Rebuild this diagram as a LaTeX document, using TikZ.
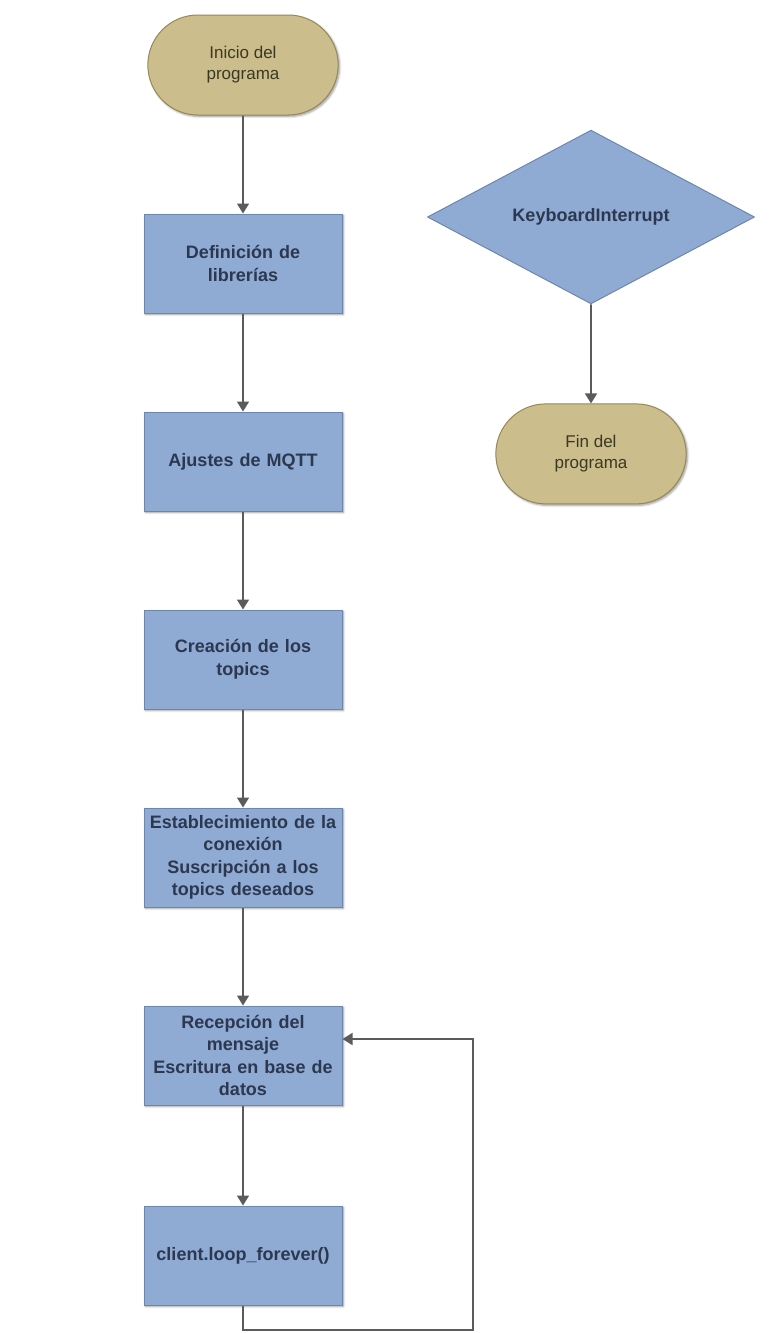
\documentclass[tikz,border=0pt]{standalone}
\usepackage{fontspec}
\setmainfont{Liberation Sans}
\usepackage{tikz}
\usetikzlibrary{positioning,shapes.geometric,shapes.misc,arrows.meta,calc,shadows.blur}
\definecolor{fcblue}{HTML}{8FAAD3}
\definecolor{fcblueline}{HTML}{6E86AC}
\definecolor{fctan}{HTML}{CBBD8C}
\definecolor{fctanline}{HTML}{968858}
\definecolor{fcink}{HTML}{2C3850}
\definecolor{fcolive}{HTML}{3B3922}
\definecolor{fcarrow}{HTML}{5B5B5B}
\tikzset{
  proc/.style={draw=fcblueline,fill=fcblue,line width=1pt,minimum width=198pt,minimum height=99pt,text width=190pt,align=center,text=fcink,font=\fontsize{18}{22.5}\selectfont\bfseries,blur shadow={shadow blur steps=5,shadow xshift=1.5pt,shadow yshift=-1.5pt}},
  term/.style={rounded rectangle,draw=fctanline,fill=fctan,line width=1pt,minimum width=197pt,minimum height=100pt,align=center,text=fcolive,font=\fontsize{17}{21}\selectfont,blur shadow={shadow blur steps=5,shadow xshift=1.5pt,shadow yshift=-1.5pt}},
  decision/.style={diamond,draw=fcblueline,fill=fcblue,line width=1pt,minimum width=327pt,minimum height=153pt,inner sep=0pt,text=fcink,font=\fontsize{18}{22}\selectfont\bfseries},
  lnk/.style={-{Triangle[length=10pt,width=12pt]},line width=1.6pt,draw=fcarrow},
}
\begin{document}
\begin{tikzpicture}[node distance=98pt]
  \useasboundingbox (0,0) rectangle (777pt,-1333pt);
  \node[term] (start) at (243pt,-65pt) {Inicio del\\programa};
  \node[proc,below=of start] (libs) {Definición de\\librerías};
  \node[proc,below=of libs] (mqtt) {Ajustes de MQTT};
  \node[proc,below=of mqtt] (topics) {Creación de los\\topics};
  \node[proc,below=of topics] (conn) {Establecimiento de la\\conexión\\Suscripción a los\\topics deseados};
  \node[proc,below=of conn] (recv) {Recepción del\\mensaje\\Escritura en base de\\datos};
  \node[proc,below=100pt of recv] (loop) {client.loop\_forever()};
  \node[decision] (kbd) at (591pt,-217pt) {KeyboardInterrupt};
  \node[term,below=99pt of kbd] (fin) {Fin del\\programa};
  \coordinate (bot) at (473pt,-1330pt);
  \coordinate (ret) at (473pt,-1039pt);
  \draw[lnk](start)--(libs);\draw[lnk](libs)--(mqtt);\draw[lnk](mqtt)--(topics);
  \draw[lnk](topics)--(conn);\draw[lnk](conn)--(recv);\draw[lnk](recv)--(loop);
  \draw[lnk](kbd)--(fin);
  \draw[lnk](loop.south)|-(bot)--(ret)--(ret-|recv.east);
\end{tikzpicture}
\end{document}
